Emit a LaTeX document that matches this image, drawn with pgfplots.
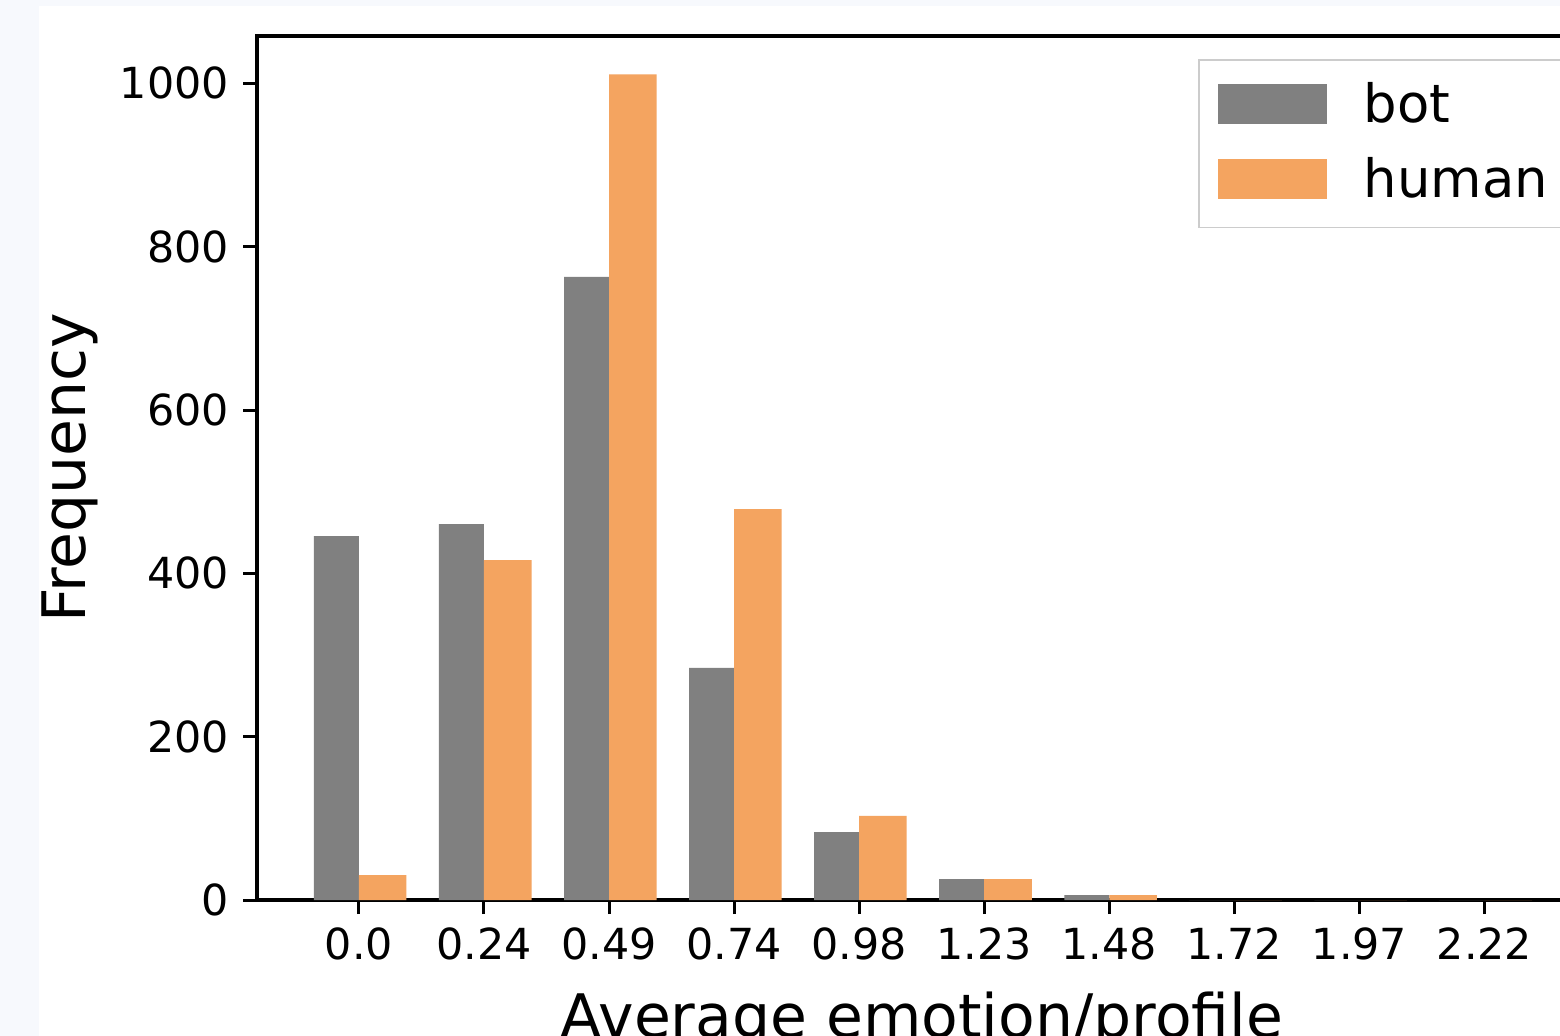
\documentclass[border=0pt]{standalone}
\usepackage{fontspec}
\setmainfont{DejaVu Sans}
\usepackage{pgfplots}
\pgfplotsset{compat=1.18}
\definecolor{botgray}{HTML}{808080}
\definecolor{humanor}{HTML}{F4A460}
\definecolor{bgstrip}{HTML}{F7F9FD}

\begin{document}
\begin{tikzpicture}
\path[use as bounding box, clip] (0,0) rectangle (390pt,-259pt);
\fill[bgstrip] (0,0) rectangle (390pt,-259pt);
\fill[white] (9.8pt,-1.4pt) rectangle (390pt,-259pt);
\begin{axis}[
  at={(64.25pt,-225pt)}, anchor=south west,
  scale only axis, width=332.5pt, height=216pt,
  xmin=-0.815, xmax=9.82, ymin=0, ymax=1058,
  axis line style={line width=0.85pt},
  tick style={line width=0.75pt, black},
  major tick length=3.5pt,
  tick align=outside,
  xtick pos=left, ytick pos=left,
  xtick={0,1,2,3,4,5,6,7,8,9},
  xticklabels={0.0,0.24,0.49,0.74,0.98,1.23,1.48,1.72,1.97,2.22},
  ytick={0,200,400,600,800,1000},
  /pgf/number format/assume math mode=true,
  /pgf/number format/1000 sep={},
  tick label style={font=\fontsize{10.7}{12}\selectfont},
  every axis x label/.style={at={(axis description cs:0.5,0)}, anchor=base, yshift=-34.25pt},
  every axis y label/.style={at={(axis description cs:-0.1406,0.5)}, rotate=90, anchor=center},
  label style={font=\fontsize{15}{18}\selectfont},
  xlabel={Average emotion/profile},
  ylabel={Frequency},
  legend style={at={(axis description cs:0.7075,0.9734)}, anchor=north west,
    draw=black!20, line width=0.4pt,
    font=\fontsize{13.2}{15}\selectfont,
    inner xsep=4.75pt, inner ysep=5.75pt,
    column sep=9.25pt, row sep=7.05pt,
    nodes={inner sep=0pt, text height=10pt, text depth=1.7pt}},
  legend cell align=left,
]
\addplot[ybar, fill=botgray, draw=none, bar width=0.36, bar shift=-0.18,
  legend image code/.code={\fill[botgray] (0pt,-4.5pt) rectangle (27.25pt,5.5pt);}]
  coordinates {(0,445.5) (1,460.2) (2,763) (3,284.3) (4,83.2) (5,25.7) (6,6) (7,0) (8,0) (9,0)};
\addlegendentry{bot}
\addplot[ybar, fill=humanor, draw=none, bar width=0.38, bar shift=0.19,
  legend image code/.code={\fill[humanor] (0pt,-4.5pt) rectangle (27.25pt,5.5pt);}]
  coordinates {(0,30.6) (1,416.2) (2,1011) (3,478.6) (4,103) (5,25.7) (6,6) (7,0) (8,0) (9,0)};
\addlegendentry{human}
\end{axis}
\end{tikzpicture}
\end{document}
